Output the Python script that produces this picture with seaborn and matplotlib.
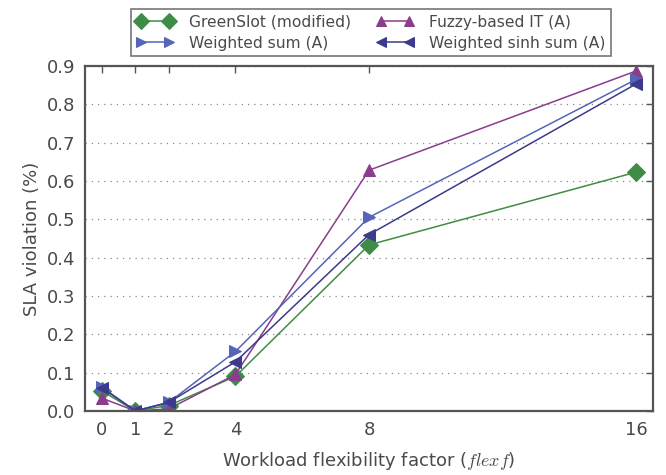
import matplotlib
matplotlib.use("Agg")
import matplotlib.pyplot as plt
import seaborn as sns
import pandas as pd

# values
flexf = [0, 1, 2, 4, 8, 16]
greenslot = [0.052, 0.0, 0.014, 0.090, 0.433, 0.623]
fuzzy = [0.033, 0.0, 0.005, 0.095, 0.628, 0.887]
wsum = [0.062, 0.0, 0.022, 0.155, 0.505, 0.865]
wsinh = [0.060, 0.0, 0.022, 0.128, 0.460, 0.853]

series = ["GreenSlot (modified)", "Fuzzy-based IT (A)", "Weighted sum (A)", "Weighted sinh sum (A)"]
colors = ["#3e8c45", "#8a3d8c", "#5565b8", "#3b3a8c"]
markers = ["D", "^", ">", "<"]

df = pd.DataFrame({"flexf": flexf, series[0]: greenslot, series[1]: fuzzy,
                   series[2]: wsum, series[3]: wsinh})
long = df.melt(id_vars="flexf", var_name="method", value_name="sla")

sns.set_style("white")
plt.rcParams["font.family"] = ["DejaVu Sans"]
plt.rcParams["mathtext.fontset"] = "cm"
plt.rcParams["text.color"] = "#4a4a4a"
plt.rcParams["axes.labelcolor"] = "#4a4a4a"
plt.rcParams["xtick.color"] = "#4a4a4a"
plt.rcParams["ytick.color"] = "#4a4a4a"
plt.rcParams["legend.numpoints"] = 2

fig = plt.figure(figsize=(6.66, 4.75), dpi=100)
ax = fig.add_axes([0.128, 0.135, 0.852, 0.726])

for name, c, m in zip(series, colors, markers):
    sub = long[long["method"] == name]
    sns.lineplot(data=sub, x="flexf", y="sla", ax=ax, color=c, marker=m,
                 markersize=9, markeredgecolor=c, linewidth=1.1, label=name)

ax.set_xlim(-0.5, 16.5)
ax.set_ylim(0, 0.9)
ax.set_xticks(flexf)
ax.set_yticks([i / 10 for i in range(10)])
ax.set_yticklabels([f"{i/10:.1f}" for i in range(10)])
ax.tick_params(direction="in", length=5, width=1, labelsize=13, top=True, right=True,
               pad=7, color="#555555")
ax.yaxis.grid(True, linestyle=(0, (1, 4)), color="#888888", linewidth=0.9)
for s in ax.spines.values():
    s.set_color("#555555")
    s.set_linewidth(1.6)

ax.set_xlabel("Workload flexibility factor ($flexf$)", fontsize=13, labelpad=8)
ax.set_ylabel("SLA violation (%)", fontsize=13)

handles, labels = ax.get_legend_handles_labels()
# column-wise fill: row 1 GreenSlot / Fuzzy, row 2 Weighted sum / Weighted sinh
order = [0, 2, 1, 3]
leg = fig.legend([handles[i] for i in order], [labels[i] for i in order], ncol=2,
                 loc="upper center", bbox_to_anchor=(0.557, 0.997), fontsize=11.2,
                 frameon=True, fancybox=False, borderpad=0.35, handletextpad=1.0,
                 columnspacing=1.6, labelspacing=0.4, handlelength=2.4,
                 markerscale=0.85)
leg.get_frame().set_edgecolor("#555555")
leg.get_frame().set_linewidth(1.2)
ax.get_legend().remove()

fig.savefig("out.png", dpi=100)
